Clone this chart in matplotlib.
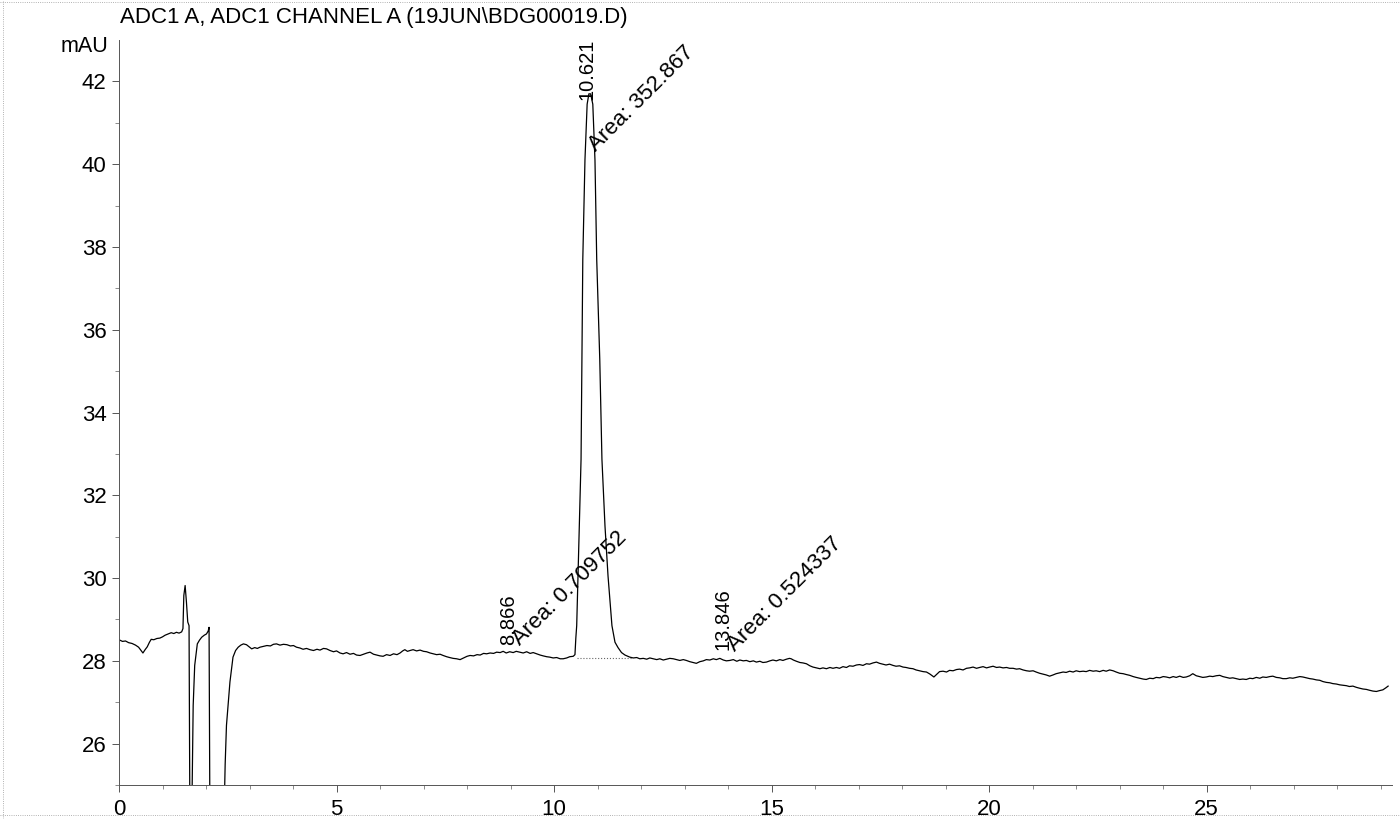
import matplotlib
matplotlib.use("Agg")
from matplotlib import pyplot as plt
from matplotlib.lines import Line2D
import numpy as np

plt.rcParams['font.family'] = ['Liberation Sans', 'DejaVu Sans']

# Хроматограмма ADC1 A: время (мин) и сигнал (mAU)
rt_start = [0.00, 0.08, 0.15, 0.22, 0.30, 0.38, 0.45, 0.50, 0.55, 0.60, 0.65, 0.70, 0.74, 0.80,
            0.87, 0.94, 1.00, 1.06, 1.13, 1.20, 1.26, 1.32, 1.38, 1.44, 1.47, 1.49, 1.52, 1.55,
            1.58, 1.61, 1.63, 1.67, 1.705, 1.74, 1.80, 1.85, 1.90, 1.96, 2.01, 2.05, 2.07, 2.09,
            2.41, 2.44, 2.47, 2.55, 2.62, 2.68, 2.74, 2.80, 2.86, 2.93, 2.99]
mau_start = [28.51, 28.47, 28.48, 28.44, 28.42, 28.38, 28.33, 28.26, 28.19, 28.27, 28.34, 28.45, 28.52, 28.51,
             28.54, 28.55, 28.58, 28.62, 28.65, 28.68, 28.66, 28.69, 28.67, 28.70, 28.78, 29.58, 29.82, 29.42,
             28.94, 28.85, 24.0, 24.0, 26.92, 27.89, 28.41, 28.50, 28.57, 28.62, 28.65, 28.72, 28.81, 24.0,
             24.0, 25.5, 26.44, 27.49, 28.09, 28.25, 28.33, 28.38, 28.41, 28.39, 28.34]

rt_before = [3.05, 3.12, 3.18, 3.24, 3.32, 3.40, 3.48, 3.55, 3.62, 3.70, 3.78, 3.86, 3.94, 4.01,
             4.08, 4.16, 4.23, 4.31, 4.39, 4.47, 4.55, 4.62, 4.70, 4.77, 4.85, 4.93, 5.00, 5.08,
             5.15, 5.23, 5.31, 5.39, 5.46, 5.54, 5.62, 5.70, 5.77, 5.85, 5.93, 6.00, 6.07, 6.15,
             6.23, 6.31, 6.39, 6.46, 6.52, 6.57, 6.63, 6.69, 6.76, 6.84, 6.92, 7.00, 7.07, 7.15,
             7.23, 7.30, 7.38, 7.45, 7.53, 7.60, 7.68, 7.76, 7.84, 7.92, 8.00, 8.07, 8.15, 8.23,
             8.30, 8.38, 8.45, 8.53, 8.61, 8.68, 8.76, 8.83, 8.90, 8.98, 9.06, 9.13, 9.21, 9.29,
             9.37, 9.45, 9.52, 9.60, 9.68, 9.75, 9.83, 9.90, 9.98, 10.06, 10.14, 10.21, 10.29, 10.36,
             10.44]
mau_before = [28.29, 28.32, 28.30, 28.33, 28.35, 28.37, 28.36, 28.40, 28.41, 28.38, 28.40, 28.39, 28.36, 28.37,
              28.33, 28.31, 28.28, 28.30, 28.27, 28.25, 28.28, 28.26, 28.30, 28.29, 28.25, 28.22, 28.24, 28.19,
              28.17, 28.20, 28.16, 28.18, 28.14, 28.13, 28.16, 28.19, 28.21, 28.16, 28.14, 28.12, 28.11, 28.15,
              28.13, 28.17, 28.15, 28.19, 28.24, 28.27, 28.23, 28.25, 28.27, 28.24, 28.26, 28.23, 28.22, 28.19,
              28.17, 28.15, 28.16, 28.13, 28.10, 28.08, 28.06, 28.05, 28.03, 28.07, 28.11, 28.13, 28.12, 28.15,
              28.14, 28.18, 28.17, 28.19, 28.18, 28.21, 28.20, 28.23, 28.19, 28.22, 28.20, 28.23, 28.21, 28.19,
              28.22, 28.18, 28.20, 28.17, 28.14, 28.12, 28.10, 28.09, 28.07, 28.08, 28.05, 28.05, 28.07, 28.10,
              28.11]

rt_peak = [10.48, 10.50, 10.52, 10.57, 10.62, 10.66, 10.71, 10.76, 10.80, 10.84, 10.89, 10.94, 10.98,
           11.05, 11.10, 11.17, 11.24, 11.33, 11.40, 11.47, 11.55, 11.63, 11.74]
mau_peak = [28.15, 28.55, 28.85, 30.87, 32.87, 37.70, 40.11, 41.45, 41.70, 41.70, 41.45, 40.10, 37.70,
            35.29, 32.87, 31.26, 30.05, 28.85, 28.45, 28.32, 28.20, 28.14, 28.09]

rt_after = [11.82, 11.90, 11.97, 12.05, 12.13, 12.20, 12.28, 12.36, 12.43, 12.51, 12.59, 12.66, 12.74, 12.82,
            12.89, 12.97, 13.04, 13.12, 13.20, 13.27, 13.35, 13.43, 13.50, 13.58, 13.66, 13.73, 13.81, 13.89,
            13.96, 14.04, 14.12, 14.20, 14.27, 14.35, 14.42, 14.50, 14.58, 14.65, 14.73, 14.80, 14.88, 14.96,
            15.03, 15.11, 15.19, 15.26, 15.34, 15.41, 15.45, 15.50, 15.57, 15.65, 15.72, 15.80, 15.88, 15.95,
            16.03, 16.11, 16.18, 16.26, 16.34, 16.41, 16.49, 16.56, 16.64, 16.72, 16.79, 16.87, 16.95, 17.02,
            17.10, 17.18, 17.25, 17.33, 17.41, 17.48, 17.56, 17.63, 17.71, 17.79, 17.86, 17.94, 18.02, 18.09,
            18.17, 18.25, 18.32, 18.40, 18.48, 18.56, 18.64, 18.73, 18.80, 18.86, 18.94, 19.02, 19.09, 19.17,
            19.25, 19.32, 19.40, 19.48, 19.55, 19.63, 19.71, 19.78, 19.86, 19.94, 20.01, 20.09, 20.17, 20.24,
            20.32, 20.40, 20.47, 20.55, 20.63, 20.70, 20.78, 20.86, 20.93, 21.01, 21.08, 21.16, 21.24, 21.31,
            21.39, 21.47, 21.54, 21.62, 21.70, 21.77, 21.85, 21.93, 22.00, 22.08, 22.16, 22.23, 22.31, 22.39,
            22.46, 22.54, 22.62, 22.69, 22.77, 22.85, 22.92, 23.00, 23.08, 23.15, 23.23, 23.31, 23.38, 23.46,
            23.54, 23.61, 23.69, 23.77, 23.84, 23.92, 24.00, 24.07, 24.15, 24.23, 24.30, 24.38, 24.46, 24.53,
            24.61, 24.68, 24.76, 24.84, 24.91, 24.99, 25.07, 25.14, 25.22, 25.30, 25.37, 25.45, 25.53, 25.60,
            25.68, 25.76, 25.83, 25.91, 25.99, 26.06, 26.14, 26.22, 26.29, 26.37, 26.45, 26.52, 26.60, 26.68,
            26.75, 26.83, 26.91, 26.98, 27.06, 27.14, 27.21, 27.29, 27.37, 27.44, 27.52, 27.60, 27.67, 27.75,
            27.83, 27.90, 27.98, 28.06, 28.13, 28.21, 28.28, 28.36, 28.44, 28.51, 28.59, 28.67, 28.74, 28.82,
            28.90, 28.97, 29.05, 29.12, 29.17]
mau_after = [28.07, 28.08, 28.05, 28.06, 28.04, 28.07, 28.05, 28.03, 28.05, 28.02, 28.04, 28.06, 28.05, 28.03,
             28.01, 28.03, 28.01, 27.98, 27.96, 27.94, 27.98, 28.00, 28.03, 28.02, 28.05, 28.03, 28.06, 28.02,
             28.00, 28.01, 28.03, 27.99, 28.02, 28.00, 28.01, 27.98, 28.00, 27.97, 27.99, 27.96, 27.97, 28.00,
             28.02, 28.00, 28.03, 28.01, 28.04, 28.06, 28.05, 28.02, 27.99, 27.96, 27.95, 27.93, 27.88, 27.85,
             27.83, 27.81, 27.83, 27.81, 27.84, 27.82, 27.84, 27.82, 27.86, 27.84, 27.88, 27.87, 27.90, 27.91,
             27.89, 27.93, 27.92, 27.95, 27.97, 27.94, 27.92, 27.90, 27.92, 27.89, 27.87, 27.88, 27.85, 27.84,
             27.82, 27.81, 27.78, 27.76, 27.74, 27.73, 27.68, 27.61, 27.68, 27.74, 27.75, 27.73, 27.77, 27.76,
             27.79, 27.80, 27.78, 27.82, 27.83, 27.85, 27.82, 27.84, 27.86, 27.83, 27.85, 27.87, 27.84, 27.85,
             27.83, 27.84, 27.82, 27.82, 27.80, 27.81, 27.78, 27.76, 27.75, 27.76, 27.73, 27.70, 27.68, 27.66,
             27.63, 27.66, 27.69, 27.71, 27.73, 27.72, 27.75, 27.73, 27.76, 27.74, 27.75, 27.74, 27.77, 27.75,
             27.76, 27.74, 27.77, 27.75, 27.78, 27.76, 27.73, 27.70, 27.69, 27.67, 27.65, 27.62, 27.60, 27.58,
             27.56, 27.55, 27.58, 27.57, 27.60, 27.59, 27.62, 27.61, 27.59, 27.62, 27.60, 27.63, 27.60, 27.61,
             27.64, 27.69, 27.64, 27.62, 27.60, 27.61, 27.63, 27.62, 27.64, 27.65, 27.62, 27.60, 27.58, 27.59,
             27.57, 27.55, 27.56, 27.55, 27.58, 27.57, 27.60, 27.58, 27.61, 27.60, 27.62, 27.63, 27.60, 27.59,
             27.57, 27.57, 27.59, 27.58, 27.60, 27.62, 27.61, 27.59, 27.57, 27.56, 27.54, 27.53, 27.50, 27.48,
             27.47, 27.45, 27.44, 27.42, 27.41, 27.40, 27.38, 27.39, 27.36, 27.34, 27.32, 27.31, 27.29, 27.27,
             27.26, 27.28, 27.30, 27.35, 27.39]

# Пики: время удерживания и площадь
peak_rt = [8.866, 10.621, 13.846]
peak_area = ['0.709752', '352.867', '0.524337']
# главная базовая линия интегрирования
base_rt = [10.52, 11.78]
base_mau = [28.06, 28.06]

rt = np.array(rt_start + rt_before + rt_peak + rt_after)
mau = np.array(mau_start + mau_before + mau_peak + mau_after)

fig = plt.figure(figsize=(14, 8.19), dpi=100)
ax = fig.add_axes([0.085, 0.0415, 0.909, 0.9096])

ax.plot(rt, mau, color='black', lw=0.9)
ax.plot(base_rt, base_mau, color='#666666', lw=0.8, ls=':')

ax.set_xlim(0, 29.25)
ax.set_ylim(25.0, 43.0)
ax.set_xticks(np.arange(0, 26, 5))
ax.set_xticks(np.arange(0, 30, 1), minor=True)
ax.set_yticks(np.arange(26, 43, 2))
ax.set_yticks(np.arange(25, 43, 1), minor=True)

for s in ['top', 'right']:
    ax.spines[s].set_visible(False)
for s in ['left', 'bottom']:
    ax.spines[s].set_color('#555555')
    ax.spines[s].set_linewidth(0.7)

ax.tick_params(which='major', direction='out', length=5, width=0.7, color='#555555',
               labelsize=16, pad=4)
ax.tick_params(which='minor', direction='out', length=3, width=0.6, color='#777777')
ax.tick_params(axis='x', pad=5)

# подписи пиков
rt_label_x = [8.95, 10.75, 13.89]
rt_label_y = [28.38, 41.55, 28.26]
area_x = [9.21, 10.97, 14.15]
area_y = [28.37, 40.30, 28.21]
for i in range(len(peak_rt)):
    ax.text(rt_label_x[i], rt_label_y[i], '%.3f' % peak_rt[i], rotation=90,
            ha='center', va='bottom', fontsize=14.5)
    ax.text(area_x[i], area_y[i], 'Area: ' + peak_area[i], rotation=45,
            rotation_mode='anchor', ha='left', va='baseline', fontsize=16)

fig.text(0.086, 1 - 18 / 819, 'ADC1 A, ADC1 CHANNEL A (19JUN\\BDG00019.D)',
         ha='left', va='center', fontsize=16)
fig.text(108 / 1400, 1 - 47 / 819, 'mAU', ha='right', va='center', fontsize=15.5)

# рамка скана
fig.add_artist(Line2D([0, 1], [0.998, 0.998], transform=fig.transFigure, color='#999999', lw=0.6, ls=':'))
fig.add_artist(Line2D([0.002, 0.002], [0, 1], transform=fig.transFigure, color='#999999', lw=0.6, ls=':'))
fig.add_artist(Line2D([0, 1], [0.005, 0.005], transform=fig.transFigure, color='#999999', lw=0.6, ls=':'))

fig.savefig('out.png', dpi=100)
